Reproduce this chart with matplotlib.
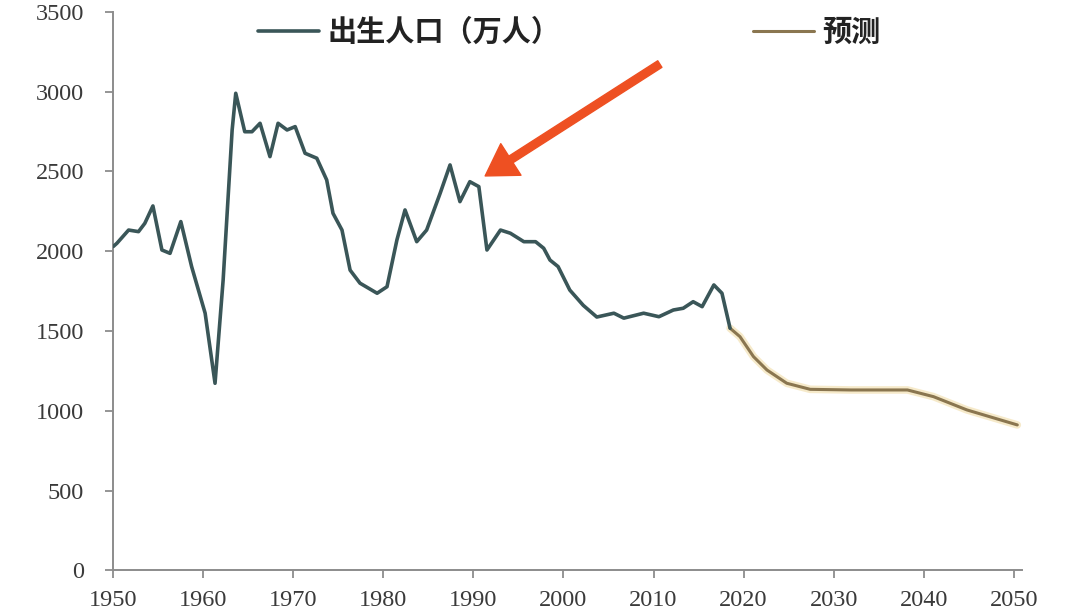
"""
China births per year, 1950-2018, with a projection to 2050.
"""

import matplotlib

matplotlib.use("Agg")
import matplotlib.pyplot as plt

# --------------------------------------------------------------------------- #
# DATA (万人)                               #
# --------------------------------------------------------------------------- #
years_hist = [1950.0, 1950.4, 1951.7, 1952.8, 1953.5, 1954.4, 1955.4, 1956.3,
              1957.5, 1958.7, 1960.2, 1961.3, 1962.2, 1963.2, 1963.6, 1964.6,
              1965.4, 1966.3, 1967.4, 1968.3, 1969.3, 1970.2, 1971.3, 1972.6,
              1973.7, 1974.4, 1975.4, 1976.3, 1977.4, 1979.3, 1980.4, 1981.5,
              1982.4, 1983.7, 1984.8, 1986.3, 1987.4, 1988.5, 1989.6, 1990.6,
              1991.5, 1993.0, 1994.1, 1995.6, 1996.9, 1997.8, 1998.5, 1999.4,
              2000.7, 2002.2, 2003.7, 2005.6, 2006.7, 2008.9, 2010.6, 2012.2,
              2013.3, 2014.4, 2015.4, 2016.7, 2017.6, 2018.5]
births_hist = [2030, 2050, 2133, 2123, 2175, 2284, 2008, 1987,
               2186, 1904, 1612, 1173, 1820, 2760, 2990, 2749,
               2749, 2802, 2593, 2802, 2760, 2781, 2614, 2583,
               2447, 2238, 2133, 1882, 1800, 1737, 1778, 2071,
               2259, 2060, 2133, 2363, 2541, 2311, 2436, 2405,
               2008, 2133, 2113, 2060, 2060, 2019, 1945, 1904,
               1757, 1661, 1588, 1612, 1581, 1612, 1590, 1632,
               1643, 1684, 1653, 1789, 1737, 1518]

years_fc = [2018.5, 2019.6, 2021.1, 2022.6, 2024.8, 2027.4, 2031.9, 2038.2,
            2041.1, 2044.8, 2050.4]
births_fc = [1518, 1465, 1340, 1256, 1173, 1135, 1131, 1131,
             1089, 1006, 912]

x_ticks = [1950, 1960, 1970, 1980, 1990, 2000, 2010, 2020, 2030, 2040, 2050]
y_ticks = [0, 500, 1000, 1500, 2000, 2500, 3000, 3500]

label_hist = "出生人口（万人）"
label_fc = "预测"

# arrow: tail and tip, in data units
arrow_tail = (2010.7, 3173)
arrow_tip = (1991.3, 2472)

HIST_COLOR = "#3a5658"
FC_COLOR = "#8a7650"
AXIS_COLOR = "#8c8c8c"

plt.rcParams["font.family"] = ["Noto Sans CJK SC", "DejaVu Sans"]

fig = plt.figure(figsize=(10.8, 6.15), dpi=100)
ax = fig.add_axes([0.1049, 0.0724, 0.8412, 0.9083])

ax.plot(years_fc, births_fc, color="#efd9a0", lw=5.5, alpha=0.55,
        solid_capstyle="round", zorder=2)
ax.plot(years_fc, births_fc, color=FC_COLOR, lw=2.2, label=label_fc,
        solid_joinstyle="round", solid_capstyle="round", zorder=3)
ax.plot(years_hist, births_hist, color=HIST_COLOR, lw=2.6, label=label_hist,
        solid_joinstyle="round", solid_capstyle="round", zorder=4)

ax.annotate("", xy=arrow_tip, xytext=arrow_tail,
            arrowprops=dict(arrowstyle="simple,head_length=1.1,head_width=1.35,tail_width=0.28",
                            color="#ee5022", shrinkA=0, shrinkB=0,
                            mutation_scale=20), zorder=5)

ax.set_xlim(1950, 2050.9)
ax.set_ylim(0, 3500)
ax.set_xticks(x_ticks)
ax.set_yticks(y_ticks)

for side in ("top", "right"):
    ax.spines[side].set_visible(False)
for side in ("left", "bottom"):
    ax.spines[side].set_color(AXIS_COLOR)
    ax.spines[side].set_linewidth(1.4)

ax.tick_params(axis="both", direction="out", length=6, width=1.3,
               color=AXIS_COLOR, labelcolor="#3a3a3a")
ax.tick_params(axis="y", pad=15)
ax.tick_params(axis="x", pad=8)
for lab in ax.get_xticklabels() + ax.get_yticklabels():
    lab.set_fontfamily("Liberation Serif")
    lab.set_fontsize(17.5)

# legend, order: history first, then forecast
handles, labels = ax.get_legend_handles_labels()
order = [labels.index(label_hist), labels.index(label_fc)]
fig.legend([handles[i] for i in order], [labels[i] for i in order],
           loc="center left", bbox_to_anchor=(258 / 1080, 1 - 32 / 615),
           ncol=2, frameon=False, borderpad=0, borderaxespad=0,
           handlelength=2.1, handletextpad=0.27, columnspacing=6.6,
           prop=dict(family=["Noto Sans CJK SC", "DejaVu Sans"],
                     weight="bold", size=21),
           labelcolor="#222222")

fig.savefig("out.png", dpi=100, facecolor="white")
